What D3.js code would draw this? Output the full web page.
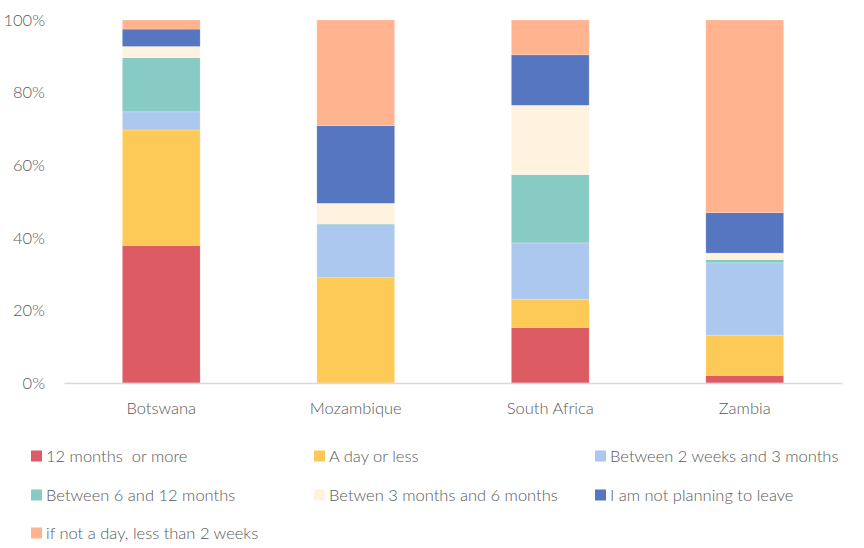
<!DOCTYPE html>
<html>
<head>
<meta charset="utf-8">
<script src="https://cdn.jsdelivr.net/npm/d3@7"></script>
<style>
  html, body { margin: 0; padding: 0; background: #fff; }
  svg { display: block; }
  text { font-family: "Lato", "Open Sans", sans-serif; font-weight: 300; fill: #595959; }
</style>
</head>
<body>
<svg id="chart" width="864" height="548"></svg>
<script>
// Countries along the x axis
const countries = ["Botswana", "Mozambique", "South Africa", "Zambia"];

// Series names, in stacking order (bottom to top)
const seriesNames = [
  "12 months  or more",
  "A day or less",
  "Between 2 weeks and 3 months",
  "Between 6 and 12 months",
  "Betwen 3 months and 6 months",
  "I am not planning to leave",
  "if not a day, less than 2 weeks"
];

// Share of respondents (%) per series, one value per country
const twelveMonthsOrMore   = [37.9, 0.0, 15.3, 2.1];
const aDayOrLess           = [31.8, 29.0, 7.8, 11.1];
const twoWeeksTo3Months    = [5.0, 14.6, 15.5, 19.9];
const sixTo12Months        = [14.9, 0.3, 18.8, 0.9];
const threeTo6Months       = [3.1, 5.6, 19.1, 1.8];
const notPlanningToLeave   = [4.8, 21.4, 13.9, 11.1];
const lessThan2Weeks       = [2.5, 29.1, 9.6, 53.1];

// Y axis tick values
const yTicks = [0, 20, 40, 60, 80, 100];

const seriesValues = [
  twelveMonthsOrMore, aDayOrLess, twoWeeksTo3Months, sixTo12Months,
  threeTo6Months, notPlanningToLeave, lessThan2Weeks
];

const colors = ["#DD5B63", "#FECA57", "#ADC8EF", "#88CAC4", "#FFF2DF", "#5677BF", "#FFB38E"];

// Rows for d3.stack
const rows = countries.map((c, i) => {
  const r = { country: c };
  seriesNames.forEach((s, j) => { r[s] = seriesValues[j][i]; });
  return r;
});

const svg = d3.select("#chart");
const margin = { left: 64, right: 22, top: 20, bottom: 165 };
const W = 864, H = 548;

const x = d3.scaleBand()
  .domain(countries)
  .range([margin.left, W - margin.right])
  .paddingInner(0.6)
  .paddingOuter(0.3);

const y = d3.scaleLinear()
  .domain([0, 100])
  .range([H - margin.bottom, margin.top]);

const color = d3.scaleOrdinal().domain(seriesNames).range(colors);

const stacked = d3.stack().keys(seriesNames)(rows);

// Stacked bars
svg.append("g")
  .selectAll("g")
  .data(stacked)
  .join("g")
    .attr("fill", d => color(d.key))
  .selectAll("rect")
  .data(d => d)
  .join("rect")
    .attr("x", d => x(d.data.country))
    .attr("width", x.bandwidth())
    .attr("y", d => y(d[1]))
    .attr("height", d => Math.max(0, y(d[0]) - y(d[1])))
    .attr("stroke", "#ffffff")
    .attr("stroke-opacity", 0.35)
    .attr("stroke-width", 0.6);

// Y axis (labels only)
const yAxis = svg.append("g")
  .attr("transform", `translate(${margin.left - 19},0)`)
  .call(d3.axisLeft(y).tickValues(yTicks).tickFormat(d => d + "%").tickSize(0).tickPadding(0));
yAxis.select(".domain").remove();
yAxis.selectAll("text")
  .style("font-size", "16.5px")
  .attr("fill", "#595959");

// X axis: baseline and country labels
const xAxis = svg.append("g")
  .attr("transform", `translate(0,${y(0)})`)
  .call(d3.axisBottom(x).tickSize(0).tickPadding(19));
xAxis.select(".domain").attr("stroke", "#d9d9d9").attr("stroke-width", 1.3);
xAxis.selectAll("text")
  .style("font-size", "16.5px")
  .attr("fill", "#595959");

// Legend
const legendCols = [31, 314, 595];
const legendRows = [456, 495, 533];
const legend = svg.append("g")
  .selectAll("g")
  .data(seriesNames)
  .join("g")
    .attr("transform", (d, i) => `translate(${legendCols[i % 3]},${legendRows[Math.floor(i / 3)]})`);
legend.append("rect")
  .attr("x", 0).attr("y", -5.5)
  .attr("width", 11).attr("height", 11)
  .attr("fill", d => color(d));
legend.append("text")
  .attr("x", 15)
  .attr("dy", "0.35em")
  .style("font-size", "16.5px")
  .style("white-space", "pre")
  .attr("xml:space", "preserve")
  .text(d => d);
</script>
</body>
</html>
